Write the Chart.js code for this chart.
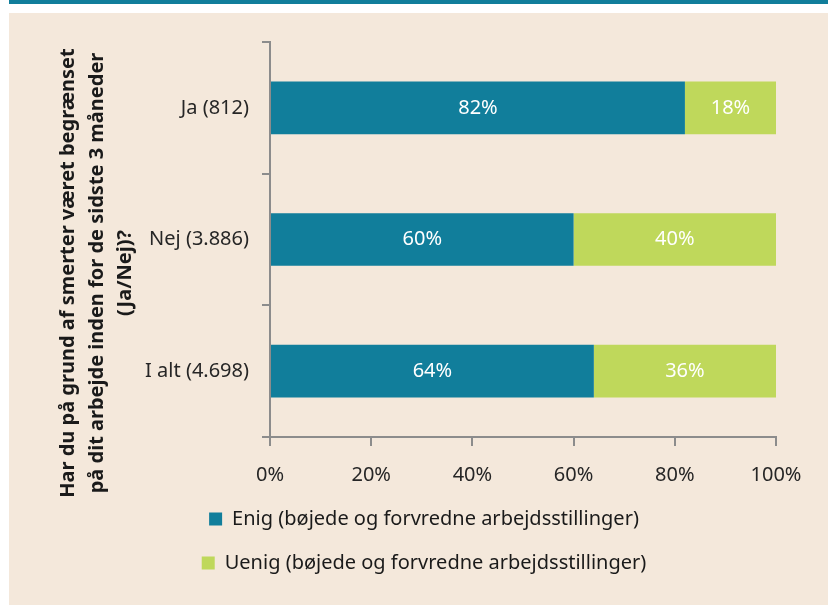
<!DOCTYPE html>
<html>
<head>
<meta charset="utf-8">
<script src="https://cdn.jsdelivr.net/npm/chart.js@4/dist/chart.umd.min.js"></script>
<style>
  html, body { margin: 0; padding: 0; background: #ffffff; }
  .topbar { position: absolute; left: 9px; top: 0; width: 819px; height: 4px; background: #117e9b; }
  .panel { position: absolute; left: 9px; top: 13px; width: 819px; height: 592px; background: #f4e8db; }
</style>
</head>
<body>
<div class="topbar"></div>
<div class="panel"><canvas id="chart__pain" width="819" height="592"></canvas></div>
<script>
const categories = ["Ja (812)", "Nej (3.886)", "I alt (4.698)"];
const agreeValues = [82, 60, 64];
const disagreeValues = [18, 40, 36];
const xTicks = [0, 20, 40, 60, 80, 100];
const seriesNames = [
  "Enig (bøjede og forvredne arbejdsstillinger)",
  "Uenig (bøjede og forvredne arbejdsstillinger)",
];
const axisTitle = [
  "Har du på grund af smerter været begrænset",
  "på dit arbejde inden for de sidste 3 måneder",
  "(Ja/Nej)?",
];

const fontFamily = "'Noto Sans', 'Open Sans', sans-serif";
const ctx = document.getElementById("chart__pain");

// white percentage labels in the middle of each bar
const barLabels = {
  id: "barLabels",
  afterDatasetsDraw(chart) {
    const c = chart.ctx;
    c.save();
    c.font = `20px ${fontFamily}`;
    c.fillStyle = "#ffffff";
    c.textAlign = "center";
    c.textBaseline = "middle";
    chart.data.datasets.forEach((ds, i) => {
      chart.getDatasetMeta(i).data.forEach((bar, j) => {
        const { x, y, base } = bar.getProps(["x", "y", "base"], true);
        c.fillText(ds.data[j] + "%", (x + base) / 2, y);
      });
    });
    c.restore();
  },
};

// rotated y-axis question, centred a bit lower than the plot area
const questionTitle = {
  id: "questionTitle",
  afterDraw(chart) {
    const c = chart.ctx;
    const xs = [59, 88, 116];
    c.save();
    c.font = `bold 20px ${fontFamily}`;
    c.fillStyle = "#1a1a1a";
    c.textAlign = "center";
    c.textBaseline = "middle";
    axisTitle.forEach((line, i) => {
      c.save();
      c.translate(xs[i], 260);
      c.rotate(-Math.PI / 2);
      c.fillText(line, 0, 0);
      c.restore();
    });
    c.restore();
  },
};

new Chart(ctx, {
  type: "bar",
  data: {
    labels: categories,
    datasets: [
      {
        label: seriesNames[0],
        data: agreeValues,
        backgroundColor: "#117e9b",
        categoryPercentage: 1,
        barPercentage: 0.4,
      },
      {
        label: seriesNames[1],
        data: disagreeValues,
        backgroundColor: "#bfd85b",
        categoryPercentage: 1,
        barPercentage: 0.4,
      },
    ],
  },
  options: {
    indexAxis: "y",
    responsive: false,
    animation: false,
    layout: { padding: { left: 63, right: 52, top: 29, bottom: 22 } },
    scales: {
      x: {
        stacked: true,
        min: 0,
        max: 100,
        afterBuildTicks(scale) {
          scale.ticks = xTicks.map((v) => ({ value: v }));
        },
        afterFit(scale) {
          scale.height = 48;
        },
        grid: {
          drawOnChartArea: false,
          color: "#8c8c8c",
          tickLength: 9,
          lineWidth: 2,
        },
        border: { color: "#8c8c8c", width: 2 },
        ticks: {
          color: "#262626",
          font: { family: fontFamily, size: 20 },
          padding: 17,
          callback: (v) => v + "%",
        },
      },
      y: {
        stacked: true,
        afterFit(scale) {
          scale.width = 198;
        },
        grid: {
          drawOnChartArea: false,
          color: "#8c8c8c",
          tickLength: 8,
          lineWidth: 2,
        },
        border: { color: "#8c8c8c", width: 2 },
        ticks: {
          color: "#262626",
          font: { family: fontFamily, size: 20 },
          padding: 13,
        },
      },
    },
    plugins: {
      legend: {
        position: "bottom",
        labels: {
          boxWidth: 13,
          boxHeight: 13,
          padding: 24,
          color: "#1a1a1a",
          font: { family: fontFamily, size: 20 },
        },
      },
      tooltip: { enabled: false },
    },
  },
  plugins: [barLabels, questionTitle],
});
</script>
</body>
</html>
